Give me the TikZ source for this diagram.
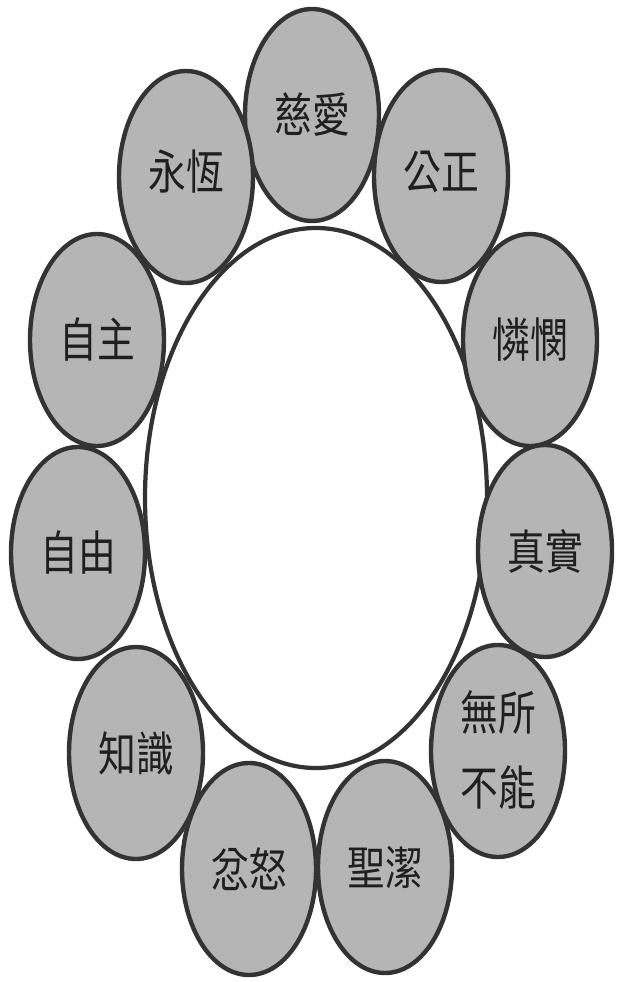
\documentclass[tikz,border=0pt]{standalone}
\usepackage{fontspec}
\newfontfamily\cjk{Noto Sans CJK TC}
\begin{document}
\begin{tikzpicture}[x=0.02cm,y=-0.02cm,
	bubble/.style={draw=black!80,line width=2.5pt,fill=black!29},
	word/.style={font=\cjk\fontsize{21.5}{34}\selectfont,text=black!88,yscale=1.25,align=center}]
	\useasboundingbox (0,0) rectangle (620,982);
	\draw[line width=2.4pt,draw=black!80,fill=white] (316,498) ellipse (171 and 270);
	\draw[bubble] (312,115) ellipse (67 and 106);
	\draw[bubble] (186,177) ellipse (67 and 106);
	\draw[bubble] (441,176) ellipse (67 and 106);
	\draw[bubble] (97,340) ellipse (67 and 106);
	\draw[bubble] (530,340) ellipse (67 and 106);
	\draw[bubble] (78,553) ellipse (67 and 106);
	\draw[bubble] (545,551) ellipse (67 and 106);
	\draw[bubble] (136,753) ellipse (67 and 106);
	\draw[bubble] (498,751) ellipse (67 and 106);
	\draw[bubble] (249,869) ellipse (67 and 106);
	\draw[bubble] (385,867) ellipse (67 and 106);
	\node[word] (ciai) at (312,115) {慈愛};
	\node[word] (yongheng) at (186,172) {永恆};
	\node[word] (gongzheng) at (441,172) {公正};
	\node[word] (zizhu) at (97,340) {自主};
	\node[word] (lianmin) at (530,340) {憐憫};
	\node[word] (ziyou) at (78,553) {自由};
	\node[word] (zhenshi) at (545,551) {真實};
	\node[word] (zhishi) at (136,753) {知識};
	\node[word] (wusuo) at (498,750) {無所\\不能};
	\node[word] (fennu) at (249,869) {忿怒};
	\node[word] (shengjie) at (385,867) {聖潔};
\end{tikzpicture}
\end{document}
